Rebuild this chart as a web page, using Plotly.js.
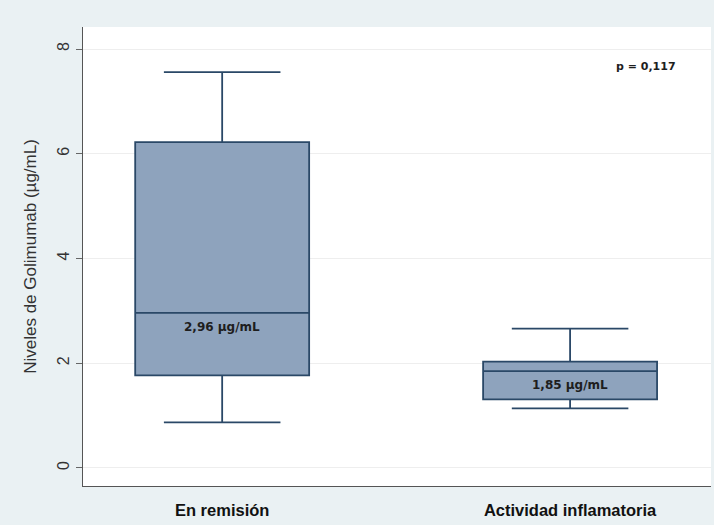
<!DOCTYPE html>
<html>
<head>
<meta charset="utf-8">
<script src="https://cdn.plot.ly/plotly-3.0.1.min.js"></script>
<style>html,body{margin:0;padding:0;background:#eaf1f3;}#chart{width:714px;height:525px;}</style>
</head>
<body>
<div id="chart"></div>
<script>
var categories = ["En remisión", "Actividad inflamatoria"];
var lowerWhisker = [0.87, 1.14];
var q1 = [1.77, 1.31];
var median = [2.96, 1.85];
var q3 = [6.22, 2.03];
var upperWhisker = [7.56, 2.66];
var medianLabels = ["2,96 µg/mL", "1,85 µg/mL"];
var pLabel = "p = 0,117";
var yTicks = [0, 2, 4, 6, 8];

var trace = {
  type: "box",
  x: categories,
  q1: q1,
  median: median,
  q3: q3,
  lowerfence: lowerWhisker,
  upperfence: upperWhisker,
  boxpoints: false,
  width: 0.5,
  whiskerwidth: 0.67,
  fillcolor: "#8ea3bd",
  line: {color: "#2a4867", width: 1.8},
  hoverinfo: "skip",
  showlegend: false
};

var annotations = categories.map(function (c, i) {
  return {
    x: c, y: median[i], xref: "x", yref: "y",
    text: "<b>" + medianLabels[i] + "</b>",
    showarrow: false, yshift: -14,
    font: {family: "DejaVu Sans, sans-serif", size: 12, color: "#1e1e1e"}
  };
});
annotations.push({
  xref: "paper", yref: "paper", x: 0.896, y: 0.915,
  xanchor: "center", yanchor: "middle",
  text: "<b>" + pLabel + "</b>", showarrow: false,
  font: {family: "DejaVu Sans, sans-serif", size: 11, color: "#1e1e1e"}
});

var layout = {
  width: 714, height: 525,
  margin: {l: 83, r: 3, t: 27, b: 39},
  paper_bgcolor: "#eaf1f3",
  plot_bgcolor: "#ffffff",
  showlegend: false,
  xaxis: {
    type: "category",
    range: [-0.4, 1.405],
    showgrid: false, zeroline: false,
    showline: true, linecolor: "#555555", linewidth: 1.2,
    ticks: "outside", ticklen: 9, tickcolor: "rgba(0,0,0,0)",
    tickfont: {family: "Liberation Sans, Arial, sans-serif", size: 16.5, color: "#111111", weight: "bold"}
  },
  yaxis: {
    range: [-0.344, 8.42],
    tickvals: yTicks,
    ticktext: yTicks.map(String),
    tickangle: -90,
    ticks: "outside", ticklen: 6, tickcolor: "#666666", tickwidth: 1,
    showgrid: true, gridcolor: "#eeeeee", gridwidth: 1,
    zeroline: false,
    showline: true, linecolor: "#555555", linewidth: 1.2,
    tickfont: {family: "Liberation Sans, Arial, sans-serif", size: 16, color: "#333333"},
    title: {text: "Niveles de Golimumab (µg/mL)", standoff: 14,
      font: {family: "Liberation Sans, Arial, sans-serif", size: 17, color: "#333333"}}
  },
  annotations: annotations
};

Plotly.newPlot("chart", [trace], layout, {displayModeBar: false, staticPlot: true});
</script>
</body>
</html>
